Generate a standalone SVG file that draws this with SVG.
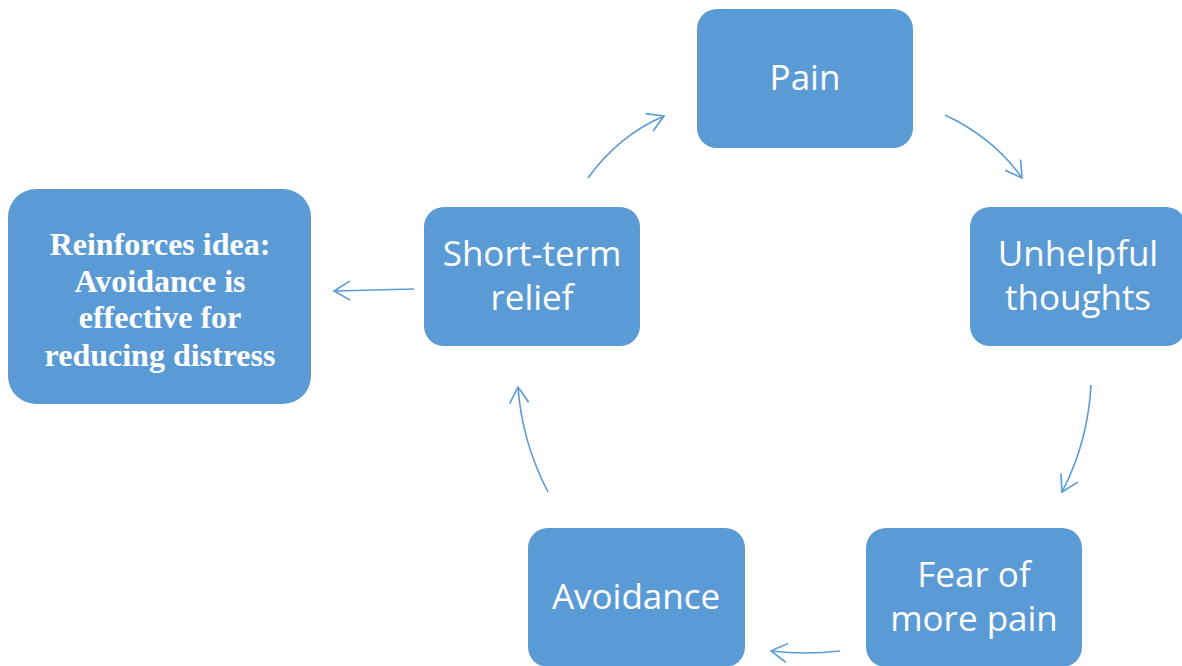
<svg xmlns="http://www.w3.org/2000/svg" width="1182" height="666" viewBox="0 0 1182 666">
  <style>
    .box { fill: #5B9BD5; }
    .lbl { fill: #FFFFFF; font-family: "Open Sans", "Liberation Sans", sans-serif; font-size: 35px; text-anchor: middle; }
    .note { fill: #FFFFFF; font-family: "Liberation Serif", serif; font-weight: bold; font-size: 32px; text-anchor: middle; }
    .link { fill: none; stroke: #5B9BD5; stroke-width: 1.6; marker-end: url(#arrow); }
  </style>
  <defs>
    <marker id="arrow" markerUnits="userSpaceOnUse" markerWidth="24" markerHeight="24" viewBox="-20 -12 24 24" refX="0" refY="0" orient="auto">
      <path d="M -16 -9.5 L 0 0 L -16 9.5" fill="none" stroke="#5B9BD5" stroke-width="1.6"/>
    </marker>
  </defs>
  <rect width="1182" height="666" fill="#FFFFFF"/>

  <g id="connectors">
    <path class="link" d="M 588 178 Q 618 136 664 116"/>
    <path class="link" d="M 945 115 Q 994 138 1022 178"/>
    <path class="link" d="M 1091 385 Q 1088 442 1062 492"/>
    <path class="link" d="M 840 651 Q 806 655 771 651"/>
    <path class="link" d="M 548 492 Q 522 442 518 387"/>
    <path class="link" d="M 414 289 L 334 291"/>
  </g>

  <g id="pain">
    <rect class="box" x="697" y="9" width="216" height="139" rx="20"/>
    <text class="lbl" x="805" y="90">Pain</text>
  </g>
  <g id="unhelpful-thoughts">
    <rect class="box" x="970" y="207" width="216" height="139" rx="20"/>
    <text class="lbl" x="1078" y="266">Unhelpful</text>
    <text class="lbl" x="1078" y="310">thoughts</text>
  </g>
  <g id="fear-of-more-pain">
    <rect class="box" x="866" y="528" width="216" height="139" rx="20"/>
    <text class="lbl" x="974" y="587">Fear of</text>
    <text class="lbl" x="974" y="631">more pain</text>
  </g>
  <g id="avoidance">
    <rect class="box" x="528" y="528" width="217" height="139" rx="20"/>
    <text class="lbl" x="636" y="609">Avoidance</text>
  </g>
  <g id="short-term-relief">
    <rect class="box" x="424" y="207" width="216" height="139" rx="20"/>
    <text class="lbl" x="532" y="266">Short-term</text>
    <text class="lbl" x="532" y="310">relief</text>
  </g>
  <g id="reinforces-idea">
    <rect class="box" x="8" y="189" width="303" height="215" rx="28"/>
    <text class="note" x="160" y="255">Reinforces idea:</text>
    <text class="note" x="160" y="292">Avoidance is</text>
    <text class="note" x="160" y="328">effective for</text>
    <text class="note" x="160" y="366">reducing distress</text>
  </g>
</svg>
